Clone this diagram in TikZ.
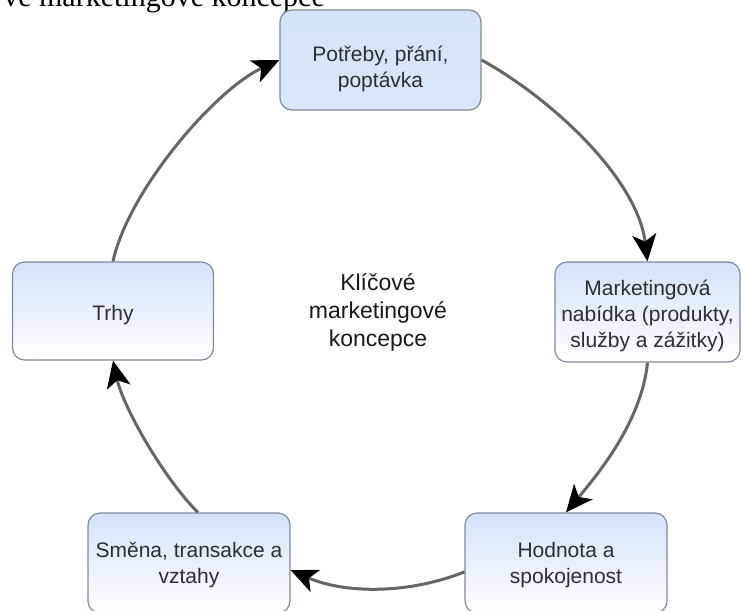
\documentclass[tikz,border=0pt]{standalone}
\usepackage{fontspec}
\setmainfont{Liberation Sans}
\newfontfamily\popisfont{Liberation Serif}
\usetikzlibrary{arrows.meta}

\definecolor{ramec}{RGB}{128,138,152}
\definecolor{modra}{RGB}{212,226,248}
\definecolor{sipkasediva}{RGB}{102,102,102}
\definecolor{pismo}{RGB}{45,45,50}

% posun textu v boxu mirne dolu
\newcommand{\radky}[2][4pt]{\raisebox{-#1}[\height][\depth]{\begin{tabular}{@{}c@{}}#2\end{tabular}}}

\begin{document}
\begin{tikzpicture}[x=1pt,y=-1pt,
  koncept/.style={draw=ramec,line width=1.2pt,rounded corners=12pt,top color=modra,bottom color=white,
    minimum width=201pt,minimum height=100pt,inner sep=0pt,text=pismo,font=\fontsize{21}{26}\selectfont},
  sipka/.style={draw=sipkasediva,line width=3pt,-{Stealth[length=27pt,width=24pt,inset=7pt,color=black]}}]
\clip (0,0) rectangle (743,610);

% odriznuty titulek nahore
\node[anchor=base east,inner sep=0pt,font=\popisfont\fontsize{30}{36}\selectfont] (titulek) at (325,7) {ve marketingové koncepce};

% boxy
\node[koncept,bottom color=modra!85!white] (potreby) at (380.5,60) {\radky[9pt]{Potřeby, přání,\\poptávka}};
\node[koncept,minimum width=185pt] (nabidka) at (647.5,312) {\radky{Marketingová\\nabídka (produkty,\\služby a zážitky)}};
\node[koncept,minimum height=98pt] (trhy) at (113,311) {\radky{Trhy}};
\node[koncept,minimum width=202pt] (hodnota) at (566,563) {\radky[2pt]{Hodnota a\\spokojenost}};
\node[koncept,minimum width=202pt] (smena) at (189,563) {\radky[2pt]{Směna, transakce a\\vztahy}};

% stred
\node[align=center,inner sep=0pt,text=black!90,font=\fontsize{23}{28}\selectfont] (stred) at (378,312) {Klíčové\\marketingové\\koncepce};

% sipky dokola
\draw[sipka] (potreby.east) .. controls +(72,40) and +(-10,-82) .. (nabidka.north);
\draw[sipka] (nabidka.south) .. controls +(-6,60) and +(30,-36) .. (hodnota.north);
\draw[sipka] (hodnota.185) .. controls +(-55,22) and +(55,24) .. (smena.356);
\draw[sipka] (smena.80) .. controls +(-35,-35) and +(10,46) .. (trhy.south);
\draw[sipka] (trhy.north) .. controls +(15,-70) and +(-65,30) .. (potreby.west);
\end{tikzpicture}
\end{document}
